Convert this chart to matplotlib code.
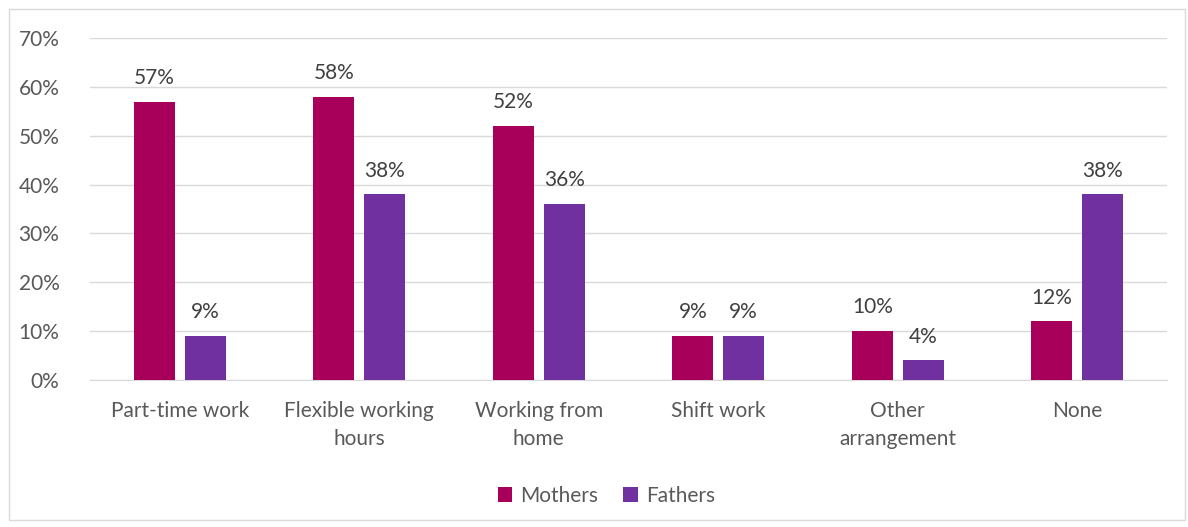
import matplotlib.pyplot as plt
import numpy as np
from matplotlib.patches import Rectangle

categories = ['Part-time work', 'Flexible working\nhours', 'Working from\nhome',
              'Shift work', 'Other\narrangement', 'None']
mothers = [57, 58, 52, 9, 10, 12]
fathers = [9, 38, 36, 9, 4, 38]

plt.rcParams['font.family'] = ['Lato', 'DejaVu Sans']

fig = plt.figure(figsize=(11.88, 5.27), dpi=100)
fig.patches.append(Rectangle((9/1188, 7/527), 1176/1188, 511/527, transform=fig.transFigure,
                             fill=False, edgecolor='#D9D9D9', linewidth=1))
ax = fig.add_axes([90/1188, 1-380/527, 1077/1188, 342/527])

x = np.arange(len(categories))
w = 0.228
gap = 0.056
b1 = ax.bar(x - (w+gap)/2, mothers, w, color='#A8005A', label='Mothers', zorder=3)
b2 = ax.bar(x + (w+gap)/2, fathers, w, color='#7030A0', label='Fathers', zorder=3)
for bars, vals in [(b1, mothers), (b2, fathers)]:
    for r, v in zip(bars, vals):
        ax.text(r.get_x() + r.get_width()/2, v + 2.8, f'{v}%', ha='center', va='bottom',
                fontsize=15, color='#404040')

ax.set_xlim(-0.5, len(categories) - 0.5)
ax.set_ylim(0, 70)
ax.set_yticks(range(0, 71, 10))
ax.set_yticklabels([f'{t}%' for t in range(0, 71, 10)])
ax.set_xticks(x)
ax.set_xticklabels(categories, linespacing=1.5)
ax.grid(axis='y', color='#D9D9D9', linewidth=1, zorder=0)
for s in ax.spines.values():
    s.set_visible(False)
ax.spines['bottom'].set_visible(True)
ax.spines['bottom'].set_color('#D9D9D9')
ax.tick_params(axis='both', length=0, labelsize=15, colors='#595959')
ax.tick_params(axis='x', pad=15)
ax.tick_params(axis='y', pad=22)

ax.legend(loc='upper center', bbox_to_anchor=(0.5 - 22/1077, -0.255), ncol=2, frameon=False,
          fontsize=15, handlelength=0.7, handleheight=0.7, columnspacing=1.2,
          handletextpad=0.4, labelcolor='#595959')

plt.savefig('out.png')
